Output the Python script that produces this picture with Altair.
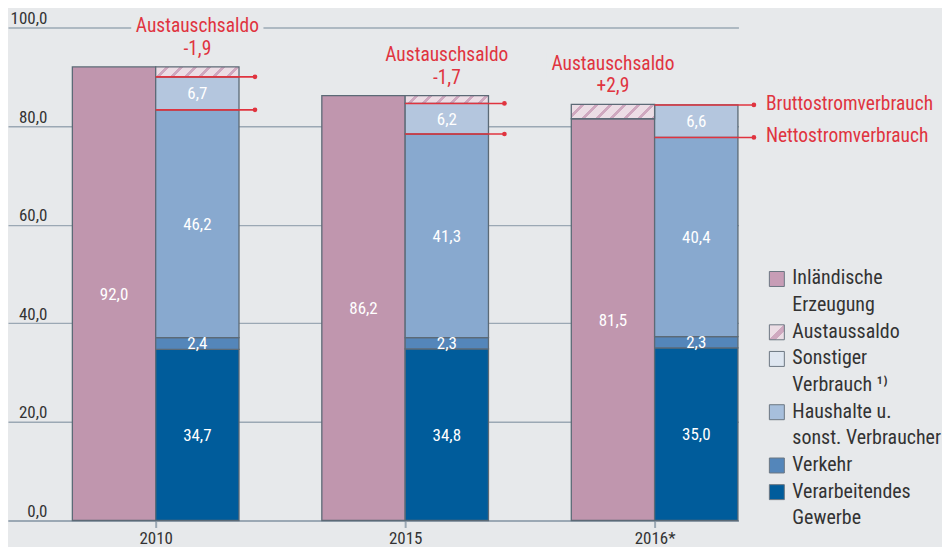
import math
import altair as alt
import pandas as pd

# ---------------- data ----------------
years = ["2010", "2015", "2016*"]
erzeugung = [92.0, 86.2, 81.5]
austauschsaldo = [-1.9, -1.7, 2.9]
verarbeitendes_gewerbe = [34.7, 34.8, 35.0]
verkehr = [2.4, 2.3, 2.3]
haushalte = [46.2, 41.3, 40.4]
sonstiger = [6.7, 6.2, 6.6]
y_ticks = [0, 20, 40, 60, 80, 100]

categories = ["Inländische Erzeugung", "Austauschsaldo", "Sonstiger Verbrauch",
              "Haushalte u. sonst. Verbraucher", "Verkehr", "Verarbeitendes Gewerbe"]
bar_colors = ["#c096ae", "#ecdde5", "#b4c6de", "#88a9cf", "#5486ba", "#005c9b"]
legend_labels = [["Inländische", "Erzeugung"], ["Austaussaldo"], ["Sonstiger", "Verbrauch ¹⁾"],
                 ["Haushalte u.", "sonst. Verbraucher"], ["Verkehr"], ["Verarbeitendes", "Gewerbe"]]
legend_colors = ["#c79db6", "#ecdde5", "#dfe7f1", "#a7bfdc", "#5486ba", "#005c9b"]
annotation_title = "Austauschsaldo"
brutto_label = "Bruttostromverbrauch"
netto_label = "Nettostromverbrauch"

# ---------------- style / layout ----------------
FONT = "Roboto Condensed"
BG = "#e7e9eb"
GRID = "#9ba8b4"
EDGE = "#5c6a76"
RED = "#e0343f"
TEXT = "#333333"
HATCH_LIGHT = "#ecdde5"
HATCH_DARK = "#cfa8bf"

PLOT_W, PLOT_H = 732, 511
PX_PER_UNIT_Y = 4.94
X_DOMAIN = [-0.592, 2.336]
Y_DOMAIN = [0, PLOT_H / PX_PER_UNIT_Y]
BAR = 0.334
TAIL = 0.064
PX_X = PLOT_W / (X_DOMAIN[1] - X_DOMAIN[0])
PX_Y = PX_PER_UNIT_Y

X_SCALE = alt.Scale(domain=X_DOMAIN, nice=False, zero=False)
Y_SCALE = alt.Scale(domain=Y_DOMAIN, nice=False, zero=False)


def X(field):
    return alt.X(field, type="quantitative", scale=X_SCALE, title=None)


def Y(field):
    return alt.Y(field, type="quantitative", scale=Y_SCALE, title=None)


def fmt(v):
    return f"{v:.1f}".replace(".", ",")


def fmt_signed(v):
    return ("+" if v > 0 else "") + fmt(v)


def hatch_gradient(w, h, period=9.9, stripe=3.0):
    D = (w + h) / math.sqrt(2)
    k = (w + h) / (w * w + h * h)
    stops = []
    i = 0
    while i * period < D:
        a = i * period
        b = a + (period - stripe)
        c = a + period
        for off, col in [(a, HATCH_LIGHT), (b, HATCH_LIGHT), (b, HATCH_DARK), (c, HATCH_DARK)]:
            stops.append(alt.GradientStop(offset=min(off / D, 1.0), color=col))
        i += 1
    return alt.LinearGradient(gradient="linear", stops=stops, x1=0, y1=0, x2=w * k, y2=h * k)


# ---------------- tables ----------------
seg_rows, hatch_rows, line_rows, ann_rows = [], [], [], []
for g, yr in enumerate(years):
    e = erzeugung[g]
    s = austauschsaldo[g]
    seg_rows.append(dict(year=yr, cat=categories[0], x0=g - BAR, x1=g, y0=0.0, y1=e, label=fmt(e)))
    bottom = 0.0
    netto = 0.0
    for cat, vals in [(categories[5], verarbeitendes_gewerbe), (categories[4], verkehr),
                      (categories[3], haushalte), (categories[2], sonstiger)]:
        v = vals[g]
        seg_rows.append(dict(year=yr, cat=cat, x0=g, x1=g + BAR, y0=bottom, y1=bottom + v, label=fmt(v)))
        bottom += v
        if cat == categories[3]:
            netto = bottom
    brutto = bottom
    if s < 0:
        hx0, hy0, hy1 = g, brutto, e
    else:
        hx0, hy0, hy1 = g - BAR, e, e + s
    hatch_rows.append(dict(year=yr, x0=hx0, x1=hx0 + BAR, y0=hy0, y1=hy1))
    top = max(e, brutto, hy1)
    ann_rows.append(dict(year=yr, xc=hx0 + BAR / 2, top=top,
                         bx0=hx0 + BAR / 2 - 0.265, bx1=hx0 + BAR / 2 + 0.265,
                         by0=top + 5.6, by1=top + 10.4,
                         text=[annotation_title, fmt_signed(s)]))
    line_rows.append(dict(year=yr, kind="Brutto", x0=g, x1=g + BAR + TAIL, y=brutto,
                          label=brutto_label if g == len(years) - 1 else ""))
    line_rows.append(dict(year=yr, kind="Netto", x0=g, x1=g + BAR + TAIL, y=netto,
                          label=netto_label if g == len(years) - 1 else ""))

seg = pd.DataFrame(seg_rows)
seg["xc"] = (seg.x0 + seg.x1) / 2
seg["ym"] = (seg.y0 + seg.y1) / 2
hatch = pd.DataFrame(hatch_rows)
lines = pd.DataFrame(line_rows)
ann = pd.DataFrame(ann_rows)

# ---------------- layers ----------------
ann_bg = alt.Chart(ann).mark_rect(color=BG).encode(
    x=X("bx0"), x2="bx1", y=Y("by0"), y2="by1",
)

bars = alt.Chart(seg).mark_bar(stroke=EDGE, strokeWidth=1.3).encode(
    x=alt.X("x0:Q", scale=X_SCALE, title=None,
            axis=alt.Axis(values=[0, 1, 2], labelExpr=f"{years}[datum.value]", grid=False,
                          domainColor=GRID, domainWidth=2, tickColor=GRID, tickWidth=2, tickSize=7,
                          labelFontSize=17, labelColor=TEXT, labelPadding=3, labelFont=FONT,
                          labelFlush=False, labelOverlap=False)),
    x2="x1:Q",
    y=alt.Y("y0:Q", scale=Y_SCALE, title=None,
            axis=alt.Axis(values=y_ticks, grid=True, gridColor=GRID, gridWidth=1.4, domain=False,
                          ticks=False, tickSize=0, labelPadding=-39, labelAlign="right",
                          labelBaseline="alphabetic", labelOffset=-4, labelFontSize=17,
                          labelColor=TEXT, labelFont=FONT, labelFlush=False, labelOverlap=False,
                          labelExpr="replace(format(datum.value, '.1f'), '.', ',')")),
    y2="y1:Q",
    color=alt.Color("cat:N", scale=alt.Scale(domain=categories, range=bar_colors), legend=None),
)

layers = [ann_bg, bars]

for _, r in hatch.iterrows():
    w = (r.x1 - r.x0) * PX_X
    h = (r.y1 - r.y0) * PX_Y
    layers.append(
        alt.Chart(hatch[hatch.year == r.year]).mark_bar(
            fill=hatch_gradient(w, h), stroke=EDGE, strokeWidth=1.3
        ).encode(x=X("x0"), x2="x1", y=Y("y0"), y2="y1")
    )

values = alt.Chart(seg).mark_text(color="white", fontSize=17, font=FONT, baseline="middle",
                                  align="center", dy=1).encode(
    x=X("xc"), y=Y("ym"), text="label:N",
)
layers.append(values)

rules = alt.Chart(lines).mark_rule(color=RED, strokeWidth=1.6).encode(
    x=X("x0"), x2="x1", y=Y("y"),
)
dots = alt.Chart(lines).mark_circle(color=RED, opacity=1, size=22).encode(
    x=X("x1"), y=Y("y"),
)
line_labels = alt.Chart(lines).mark_text(color=RED, fontSize=19.5, font=FONT, align="left",
                                         baseline="middle", dx=12, dy=-1).encode(
    x=X("x1"), y=Y("y"), text="label:N",
)
layers += [rules, dots, line_labels]

ann_text = alt.Chart(ann).mark_text(color=RED, fontSize=19.5, font=FONT, align="center",
                                    baseline="alphabetic", lineHeight=23, dy=-35).encode(
    x=X("xc"), y=Y("top"), text="text",
)
layers.append(ann_text)

# ---------------- legend (drawn) ----------------
dummy = pd.DataFrame({"k": [0]})
LEG_LINE = 26.7
LEG_TOP = 269
line_idx = 0
for lab, col in zip(legend_labels, legend_colors):
    c = LEG_TOP + LEG_LINE * line_idx
    if lab[0] == "Austaussaldo":
        fill = hatch_gradient(15, 15, period=15, stripe=5)
    else:
        fill = col
    layers.append(alt.Chart(dummy).mark_rect(fill=fill, stroke="#6b7682", strokeWidth=1).encode(
        x=alt.value(763), x2=alt.value(778), y=alt.value(c - 7.5), y2=alt.value(c + 7.5)))
    layers.append(alt.Chart(dummy).mark_text(fontSize=20, font=FONT, color=TEXT, align="left",
                                             baseline="alphabetic", lineHeight=LEG_LINE).encode(
        x=alt.value(786), y=alt.value(c + 5.5), text=alt.value(lab if len(lab) > 1 else lab[0])))
    line_idx += len(lab)

chart = alt.layer(*layers).properties(
    width=PLOT_W, height=PLOT_H, padding=0, background=BG
).configure_view(stroke=None)

chart.save("out.html", embed_options={"renderer": "svg", "actions": False})
